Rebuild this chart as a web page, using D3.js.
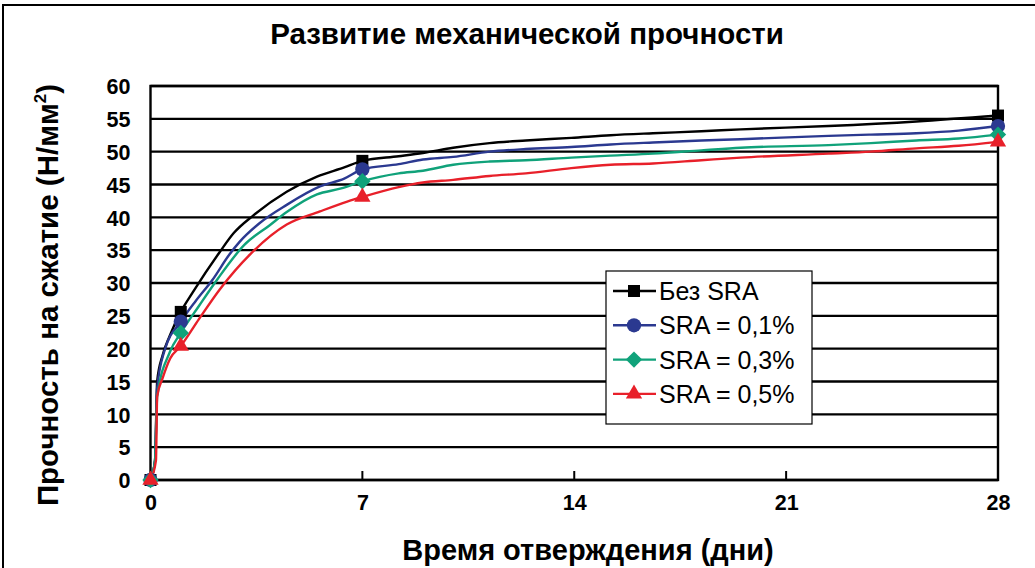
<!DOCTYPE html>
<html><head><meta charset="utf-8">
<script src="https://cdn.jsdelivr.net/npm/d3@7"></script>
<style>html,body{margin:0;padding:0;background:#fff;}svg{display:block;}</style>
</head><body>
<svg id="chart" width="1035" height="568"></svg>
<script>
// ---- data ----
const title = "Развитие механической прочности";
const xTitle = "Время отверждения (дни)";
const yTitle = "Прочность на сжатие (Н/мм";
const xTicks = [0, 7, 14, 21, 28];
const yTicks = [0, 5, 10, 15, 20, 25, 30, 35, 40, 45, 50, 55, 60];
const seriesNames = ["Без SRA", "SRA = 0,1%", "SRA = 0,3%", "SRA = 0,5%"];
const seriesColors = ["#000000", "#2b3990", "#10a27a", "#e8202a"];
const markerDays = [0, 1, 7, 28];

const daysBlack = [0, 0.15, 0.22, 0.4, 0.64, 1, 1.4, 2.3, 2.75, 3.4, 4.5, 5.5, 6.4, 7, 8.2, 9, 10, 11.2, 12.4, 13.9, 15.2, 16.6, 18.2, 19.5, 22.4, 25.3, 28];
const valsBlack = [0, 3, 15, 19, 22, 25.6, 28.6, 34.8, 37.6, 40.3, 43.9, 46.2, 47.6, 48.6, 49.3, 49.8, 50.6, 51.3, 51.7, 52.1, 52.5, 52.8, 53.1, 53.4, 53.9, 54.6, 55.5];

const daysBlue = [0, 0.15, 0.22, 0.47, 1, 1.5, 2.05, 2.6, 2.95, 3.6, 4.5, 5.6, 6.4, 7, 8.2, 9, 10, 11.2, 12.4, 13.9, 15.2, 16.6, 18.2, 19.5, 22.4, 23.8, 25.3, 26.7, 28];
const valsBlue = [0, 3, 14, 19.8, 24.1, 27.3, 30.5, 34.3, 36.3, 39.1, 41.9, 44.7, 45.9, 47.3, 48.1, 48.8, 49.2, 50.0, 50.4, 50.7, 51.1, 51.4, 51.7, 51.9, 52.4, 52.6, 52.8, 53.2, 53.9];

const daysGreen = [0, 0.15, 0.22, 0.64, 1, 1.6, 2.2, 3.1, 3.94, 4.5, 5.5, 6.3, 7, 8.2, 9, 10, 11.2, 12.4, 13.9, 15.2, 16.6, 18.2, 19.5, 22.4, 23.8, 25.3, 26.7, 28];
const valsGreen = [0, 3, 12.7, 19.5, 22.4, 26.5, 30.5, 35.8, 38.8, 40.8, 43.5, 44.4, 45.5, 46.7, 47.1, 48.0, 48.5, 48.7, 49.1, 49.4, 49.7, 50.2, 50.6, 51.0, 51.3, 51.7, 52.0, 52.6];

const daysRed = [0, 0.18, 0.22, 0.4, 0.65, 1, 1.6, 2.3, 3.3, 4.5, 5.6, 6.5, 7, 8.2, 9, 10, 11.2, 12.4, 13.9, 15.2, 16.6, 18.2, 19.5, 22.4, 23.8, 25.3, 26.7, 28];
const valsRed = [0, 3, 12.7, 15.5, 18.5, 20.4, 24.5, 29.1, 34.4, 38.9, 40.9, 42.4, 43.1, 44.6, 45.3, 45.7, 46.3, 46.7, 47.5, 48.0, 48.2, 48.7, 49.1, 49.7, 50.0, 50.5, 50.9, 51.5];

const seriesDays = [daysBlack, daysBlue, daysGreen, daysRed];
const seriesVals = [valsBlack, valsBlue, valsGreen, valsRed];

// ---- chart ----
const svg = d3.select("#chart");
const font = "'Liberation Sans', Arial, Helvetica, sans-serif";
const pLeft = 150.5, pRight = 998, pTop = 86, pBottom = 480;
const x = d3.scaleLinear().domain([0, 28]).range([pLeft, pRight]);
const y = d3.scaleLinear().domain([0, 60]).range([pBottom, pTop]);

// outer frame
svg.append("rect").attr("x", 3).attr("y", 5).attr("width", 1100).attr("height", 1000)
  .attr("fill", "none").attr("stroke", "#000").attr("stroke-width", 2);

// title
svg.append("text").attr("x", 527).attr("y", 44).attr("text-anchor", "middle")
  .attr("font-family", font).attr("font-weight", "bold").attr("font-size", 29.5)
  .text(title);

// gridlines
svg.append("g").selectAll("line").data(yTicks).join("line")
  .attr("x1", pLeft).attr("x2", pRight).attr("y1", d => y(d)).attr("y2", d => y(d))
  .attr("stroke", "#000").attr("stroke-width", 2.4);

// plot border
svg.append("rect").attr("x", pLeft).attr("y", pTop).attr("width", pRight - pLeft).attr("height", pBottom - pTop)
  .attr("fill", "none").attr("stroke", "#000").attr("stroke-width", 2.4);

// y axis labels
const yAxis = d3.axisLeft(y).tickValues(yTicks).tickSize(0).tickPadding(20);
const gy = svg.append("g").attr("transform", `translate(${pLeft},0)`).call(yAxis);
gy.select(".domain").remove();
gy.selectAll("text").attr("font-family", font).attr("font-weight", "bold").attr("font-size", 21.5).attr("fill", "#000").attr("dy", "0.36em");

// x axis
const xAxis = d3.axisBottom(x).tickValues(xTicks).tickSize(0).tickPadding(15);
const gx = svg.append("g").attr("transform", `translate(0,${pBottom})`).call(xAxis);
gx.select(".domain").remove();
gx.selectAll("text").attr("font-family", font).attr("font-weight", "bold").attr("font-size", 21.5).attr("fill", "#000");
// inner tick marks
svg.append("g").selectAll("line").data(xTicks.slice(1, -1)).join("line")
  .attr("x1", d => x(d)).attr("x2", d => x(d)).attr("y1", pBottom).attr("y2", pBottom - 9)
  .attr("stroke", "#000").attr("stroke-width", 2);

// axis titles
svg.append("text").attr("x", 588).attr("y", 560).attr("text-anchor", "middle")
  .attr("font-family", font).attr("font-weight", "bold").attr("font-size", 29)
  .text(xTitle);
const yt = svg.append("text").attr("transform", "translate(58,295) rotate(-90)").attr("text-anchor", "middle")
  .attr("font-family", font).attr("font-weight", "bold").attr("font-size", 29.5);
yt.append("tspan").text(yTitle);
yt.append("tspan").attr("font-size", 17).attr("dy", -12).text("2");
yt.append("tspan").attr("dy", 12).text(")");

// lines
const line = d3.line().x(d => x(d[0])).y(d => y(d[1])).curve(d3.curveMonotoneX);
const lineG = svg.append("g");
seriesDays.forEach((days, i) => {
  const pts = days.map((d, j) => [d, seriesVals[i][j]]);
  lineG.append("path").datum(pts).attr("d", line).attr("fill", "none")
    .attr("stroke", seriesColors[i]).attr("stroke-width", 2.4).attr("stroke-linejoin", "round");
});

// markers
function marker(g, i, cx, cy) {
  const c = seriesColors[i];
  if (i === 0) g.append("rect").attr("x", cx - 6).attr("y", cy - 6).attr("width", 12).attr("height", 12).attr("fill", c);
  else if (i === 1) g.append("path").attr("d", d3.symbol(d3.symbolCircle, 160)()).attr("transform", `translate(${cx},${cy})`).attr("fill", c);
  else if (i === 2) g.append("path").attr("d", d3.symbol(d3.symbolDiamond2, 170)()).attr("transform", `translate(${cx},${cy})`).attr("fill", c);
  else g.append("path").attr("d", d3.symbol(d3.symbolTriangle2, 190)()).attr("transform", `translate(${cx},${cy})`).attr("fill", c);
}
const mg = svg.append("g");
seriesDays.forEach((days, i) => {
  markerDays.forEach(md => {
    const j = days.indexOf(md);
    marker(mg, i, x(md), y(seriesVals[i][j]));
  });
});

// legend
const lg = svg.append("g");
lg.append("rect").attr("x", 606).attr("y", 271).attr("width", 206).attr("height", 153)
  .attr("fill", "#fff").attr("stroke", "#000").attr("stroke-width", 1.2);
seriesNames.forEach((n, i) => {
  const ly = 291 + i * 34.3;
  lg.append("line").attr("x1", 613).attr("x2", 656).attr("y1", ly).attr("y2", ly)
    .attr("stroke", seriesColors[i]).attr("stroke-width", 2.4);
  marker(lg, i, 634, ly);
  lg.append("text").attr("x", 659).attr("y", ly + 9).attr("font-family", font).attr("font-size", 25)
    .text(n);
});
</script>
</body></html>
